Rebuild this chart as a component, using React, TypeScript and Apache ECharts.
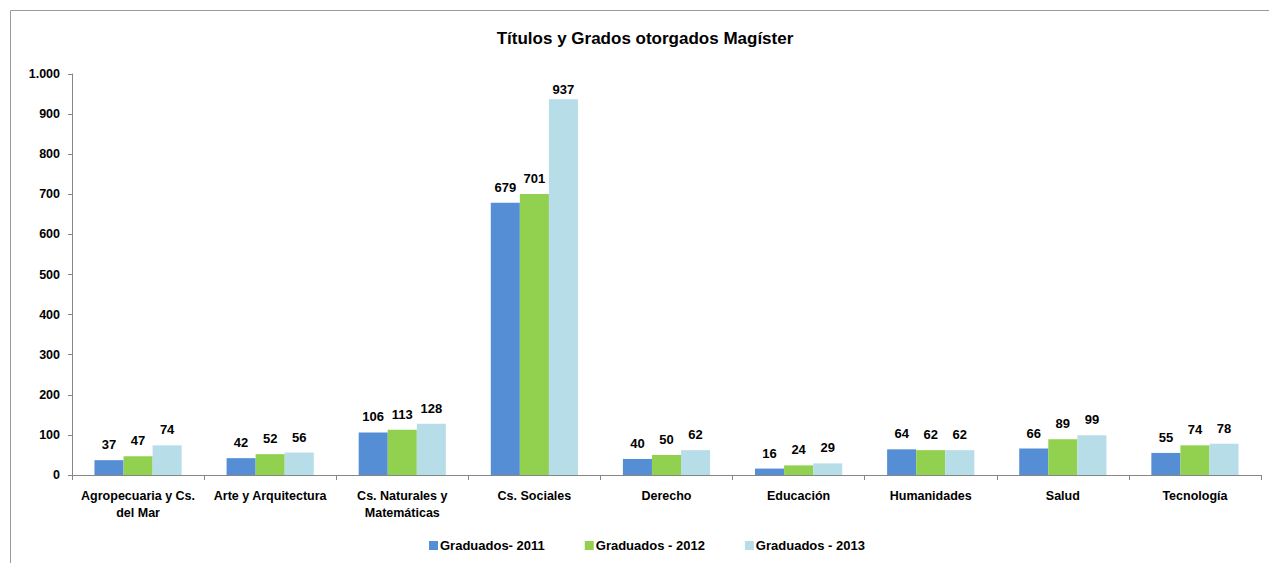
import React, { useEffect, useRef } from "react";
import * as echarts from "echarts";

const categories = [
  "Agropecuaria y Cs.\ndel Mar",
  "Arte y Arquitectura",
  "Cs. Naturales y\nMatemáticas",
  "Cs. Sociales",
  "Derecho",
  "Educación",
  "Humanidades",
  "Salud",
  "Tecnología",
];
const seriesNames = ["Graduados- 2011", "Graduados - 2012", "Graduados - 2013"];
const values2011 = [37, 42, 106, 679, 40, 16, 64, 66, 55];
const values2012 = [47, 52, 113, 701, 50, 24, 62, 89, 74];
const values2013 = [74, 56, 128, 937, 62, 29, 62, 99, 78];
const colors = ["#558ED5", "#92D050", "#B7DEE8"];
const titleText = "Títulos y Grados otorgados Magíster";

const FONT = "'Liberation Sans', Arial, sans-serif";

export default function App() {
  const ref = useRef<HTMLDivElement>(null);
  useEffect(() => {
    if (!ref.current) return;
    const chart = echarts.init(ref.current, null, { renderer: "svg" });
    const data = [values2011, values2012, values2013];
    chart.setOption({
      animation: false,
      backgroundColor: "#ffffff",
      textStyle: { fontFamily: FONT },
      title: {
        text: titleText,
        left: 640,
        textAlign: "center",
        top: 25,
        textStyle: { fontSize: 17, fontWeight: "bold", color: "#000", fontFamily: FONT },
      },
      graphic: [
        {
          type: "rect",
          shape: { x: 10.5, y: 10.5, width: 1400, height: 700 },
          style: { fill: "none", stroke: "#9a9a9a", lineWidth: 1 },
          silent: true,
        },
      ],
      legend: {
        bottom: 6,
        left: 424,
        itemWidth: 9,
        itemHeight: 9,
        itemGap: 40,
        icon: "rect",
        textStyle: { fontSize: 13, fontWeight: "bold", color: "#000", fontFamily: FONT, padding: [0, 0, 0, -3] },
        data: seriesNames,
      },
      grid: { left: 72, right: 8, top: 74, bottom: 88, containLabel: false },
      xAxis: {
        type: "category",
        data: categories,
        axisLine: { lineStyle: { color: "#868686", width: 1 } },
        axisTick: { show: true, length: 5, lineStyle: { color: "#868686" } },
        axisLabel: {
          interval: 0,
          margin: 12,
          fontSize: 12.5,
          fontWeight: "bold",
          color: "#000",
          fontFamily: FONT,
          lineHeight: 17,
        },
      },
      yAxis: {
        type: "value",
        min: 0,
        max: 1000,
        interval: 100,
        splitLine: { show: false },
        axisLine: { show: true, lineStyle: { color: "#868686", width: 1 } },
        axisTick: { show: true, length: 4, lineStyle: { color: "#868686" } },
        axisLabel: {
          margin: 12,
          fontSize: 12.5,
          fontWeight: "bold",
          color: "#000",
          fontFamily: FONT,
          formatter: (v: number) => v.toLocaleString("de-DE"),
        },
      },
      series: seriesNames.map((name, i) => ({
        name,
        type: "bar",
        data: data[i].map((v) => (v > 900 ? { value: v, label: { distance: 3 } } : v)),
        barGap: "0%",
        barCategoryGap: "34%",
        itemStyle: { color: colors[i] },
        label: {
          show: true,
          position: "top",
          distance: 9,
          fontSize: 13,
          fontWeight: "bold",
          color: "#000",
          fontFamily: FONT,
        },
      })),
    });
    return () => chart.dispose();
  }, []);
  return <div ref={ref} style={{ width: 1269, height: 563, position: "absolute", left: 0, top: 0 }} />;
}
